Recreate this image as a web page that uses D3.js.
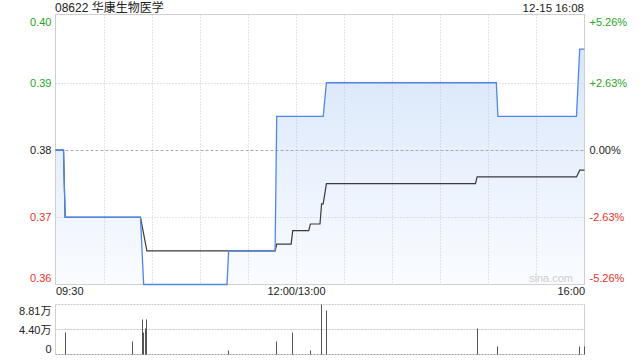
<!DOCTYPE html>
<html>
<head>
<meta charset="utf-8">
<title>08622 分时图</title>
<style>
  body { margin: 0; background: #fff; }
  svg text { font-family: "Liberation Sans", Arial, "Noto Sans CJK SC", sans-serif; }
</style>
</head>
<body>
<svg id="viz" width="640" height="360"></svg>
<script src="https://d3js.org/d3.v7.min.js"></script>
<script>
// ---- data (minutes since 09:30, lunch removed) ----
var stockName = "08622 华康生物医学";
var stamp = "12-15 16:08";
var prevClose = 0.38;

var priceT = [0, 5, 6, 53, 55, 107, 108, 137, 138, 167, 169, 275, 276, 325, 327, 330];
var priceV = [0.38, 0.38, 0.37, 0.37, 0.36, 0.36, 0.365, 0.365, 0.385, 0.385, 0.39, 0.39, 0.385, 0.385, 0.395, 0.395];

var avgT = [0, 5, 6, 53, 57, 137, 138, 147, 148, 158, 159, 165, 166, 167, 169, 262, 263, 325, 327, 330];
var avgV = [0.38, 0.38, 0.37, 0.37, 0.365, 0.365, 0.366, 0.366, 0.368, 0.368, 0.369, 0.369, 0.372, 0.372, 0.375, 0.375, 0.376, 0.376, 0.377, 0.377];

// volume in 万
var volT = [6, 48, 54, 55, 56, 57, 108, 138, 148, 159, 166, 169, 263, 276, 327, 330];
var volV = [3.88, 2.29, 6.17, 3.88, 4.58, 6.17, 0.70, 2.29, 3.88, 0.70, 8.81, 7.75, 4.58, 1.41, 1.41, 1.41];

var priceTicks = [0.36, 0.37, 0.38, 0.39, 0.40];
var pctLabels = ["-5.26%", "-2.63%", "0.00%", "+2.63%", "+5.26%"];
var timeTicks = [0, 150, 330];
var timeLabels = ["09:30", "12:00/13:00", "16:00"];
var volTicks = [0, 4.40, 8.81];
var volLabels = ["0", "4.40万", "8.81万"];

// ---- layout ----
var pLeft = 55.5, pRight = 584.5;
var pTop = 14.5, pBottom = 284.5;
var vTop = 304.5, vBottom = 354.5;
var green = "#1fa51f", red = "#f0302a", dark = "#222";

var svg = d3.select("#viz");

var x = d3.scaleLinear().domain([0, 330]).range([pLeft, pRight]);
var y = d3.scaleLinear().domain([0.36, 0.40]).range([pBottom, pTop + 1]);
var yv = d3.scaleLinear().domain([0, 8.81]).range([vBottom, vTop]);

function colorFor(v) {
  if (Math.abs(v - prevClose) < 1e-9) return dark;
  return v > prevClose ? green : red;
}

// gradient for the area
var defs = svg.append("defs");
var grad = defs.append("linearGradient")
  .attr("id", "fillGrad")
  .attr("gradientUnits", "userSpaceOnUse")
  .attr("x1", 0).attr("x2", 0)
  .attr("y1", pTop).attr("y2", pBottom);
grad.append("stop").attr("offset", "0%").attr("stop-color", "#d3e3fa");
grad.append("stop").attr("offset", "100%").attr("stop-color", "#fafcff");

// title + stamp
svg.append("text").attr("x", 55).attr("y", 11.5)
  .attr("font-size", 12).attr("fill", dark).text(stockName);
svg.append("text").attr("x", 584).attr("y", 11.5)
  .attr("text-anchor", "end").attr("font-size", 11.5).attr("fill", dark).text(stamp);

// area under price
var pricePts = priceT.map(function (t, i) { return [t, priceV[i]]; });
var avgPts = avgT.map(function (t, i) { return [t, avgV[i]]; });

svg.append("path")
  .datum(pricePts)
  .attr("fill", "url(#fillGrad)")
  .attr("d", d3.area()
    .x(function (d) { return x(d[0]); })
    .y0(pBottom)
    .y1(function (d) { return y(d[1]); }));

// vertical grid lines (every 30 min)
var vgrid = d3.range(30, 330, 30);
svg.selectAll(".vg").data(vgrid).enter().append("line")
  .attr("x1", function (d) { return Math.round(x(d)) + 0.5; })
  .attr("x2", function (d) { return Math.round(x(d)) + 0.5; })
  .attr("y1", pTop).attr("y2", pBottom)
  .attr("stroke", "#c8c8c8").attr("stroke-dasharray", "1,2");

// horizontal grid lines
svg.selectAll(".hg").data([0.37, 0.38, 0.39]).enter().append("line")
  .attr("x1", pLeft).attr("x2", pRight)
  .attr("y1", function (d) { return Math.round(y(d)) + 0.5; })
  .attr("y2", function (d) { return Math.round(y(d)) + 0.5; })
  .attr("stroke", function (d) { return d === prevClose ? "#aaa" : "#c8c8c8"; })
  .attr("stroke-dasharray", function (d) { return d === prevClose ? "3,2" : "1,2"; });

// frame
svg.append("rect")
  .attr("x", pLeft).attr("y", pTop)
  .attr("width", pRight - pLeft).attr("height", pBottom - pTop)
  .attr("fill", "none").attr("stroke", "#cfcfcf");

// watermark
svg.append("text").attr("x", 573).attr("y", 282)
  .attr("text-anchor", "end").attr("font-size", 11).attr("fill", "#cccccc").text("sina.com");

// lines
var line = d3.line()
  .x(function (d) { return x(d[0]); })
  .y(function (d) { return y(d[1]); });

svg.append("path").datum(avgPts)
  .attr("fill", "none").attr("stroke", "#3a3a3a").attr("stroke-width", 1.2)
  .attr("d", line);

svg.append("path").datum(pricePts)
  .attr("fill", "none").attr("stroke", "#4f87e6").attr("stroke-width", 1.3)
  .attr("d", line);

// left price axis
var axL = svg.append("g").attr("transform", "translate(" + (pLeft - 4) + ",0)")
  .call(d3.axisLeft(y).tickValues(priceTicks).tickSize(0).tickPadding(0)
    .tickFormat(d3.format(".2f")));
axL.select(".domain").remove();
axL.selectAll("text")
  .attr("font-size", 11)
  .attr("fill", function (d) { return colorFor(d); })
  .attr("dy", function (d) { return d === 0.40 ? "0.9em" : (d === 0.36 ? "-0.25em" : "0.32em"); });

// right percent axis
var axR = svg.append("g").attr("transform", "translate(" + (pRight + 5) + ",0)")
  .call(d3.axisRight(y).tickValues(priceTicks).tickSize(0).tickPadding(0)
    .tickFormat(function (d, i) { return pctLabels[i]; }));
axR.select(".domain").remove();
axR.selectAll("text")
  .attr("font-size", 11)
  .attr("fill", function (d) { return colorFor(d); })
  .attr("dy", function (d) { return d === 0.40 ? "0.9em" : (d === 0.36 ? "-0.25em" : "0.32em"); });

// time axis
var axB = svg.append("g").attr("transform", "translate(0," + pBottom + ")")
  .call(d3.axisBottom(x).tickValues(timeTicks).tickSize(0).tickPadding(3)
    .tickFormat(function (d, i) { return timeLabels[i]; }));
axB.select(".domain").remove();
axB.selectAll("text")
  .attr("font-size", 11)
  .attr("fill", dark)
  .attr("text-anchor", function (d) { return d === 0 ? "start" : (d === 330 ? "end" : "middle"); });

// ---- volume panel ----
svg.selectAll(".vhg").data(volTicks).enter().append("line")
  .attr("x1", pLeft).attr("x2", pRight)
  .attr("y1", function (d) { return Math.round(yv(d) - 0.5) + 0.5; })
  .attr("y2", function (d) { return Math.round(yv(d) - 0.5) + 0.5; })
  .attr("stroke", function (d) { return d === 0 ? "#999" : "#c8c8c8"; })
  .attr("stroke-dasharray", "2,1");

svg.append("line").attr("x1", pLeft).attr("x2", pLeft).attr("y1", vTop).attr("y2", vBottom)
  .attr("stroke", "#cfcfcf");
svg.append("line").attr("x1", pRight).attr("x2", pRight).attr("y1", vTop).attr("y2", vBottom)
  .attr("stroke", "#cfcfcf");

svg.selectAll(".vol").data(volT).enter().append("line")
  .attr("x1", function (d) { return Math.round(x(d) - 0.5) + 0.5; })
  .attr("x2", function (d) { return Math.round(x(d) - 0.5) + 0.5; })
  .attr("y1", vBottom)
  .attr("y2", function (d, i) { return yv(volV[i]); })
  .attr("stroke", "#555").attr("stroke-width", 1);

var axV = svg.append("g").attr("transform", "translate(" + (pLeft - 4) + ",0)")
  .call(d3.axisLeft(yv).tickValues(volTicks).tickSize(0).tickPadding(0)
    .tickFormat(function (d, i) { return volLabels[i]; }));
axV.select(".domain").remove();
axV.selectAll("text")
  .attr("font-size", 11)
  .attr("fill", dark)
  .attr("dy", function (d) { return d === 8.81 ? "0.95em" : (d === 0 ? "-0.2em" : "0.32em"); });
</script>
</body>
</html>
